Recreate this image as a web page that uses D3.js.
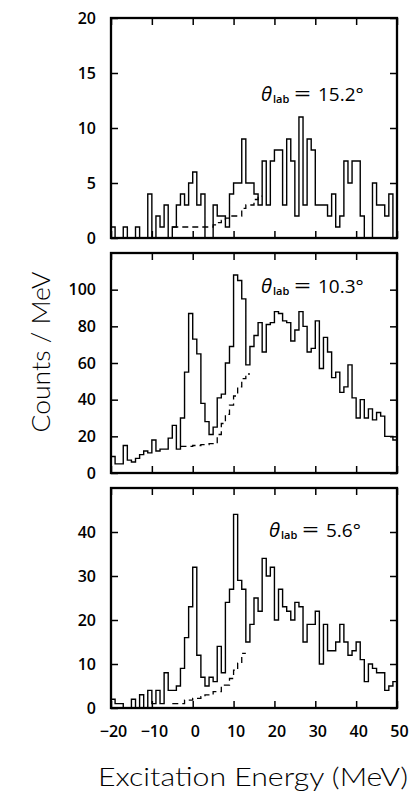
<!DOCTYPE html>
<html>
<head>
<meta charset="utf-8">
<script src="https://cdn.jsdelivr.net/npm/d3@7"></script>
<style>
body { margin: 0; background: #fff; }
svg text { font-family: "Open Sans", "Liberation Sans", Arial, sans-serif; fill: #000; }
.title { font-family: Lato, "Liberation Sans", sans-serif; font-weight: 300; }
</style>
</head>
<body>
<svg id="chart" width="413" height="793"></svg>
<script>
// histogram bins: 1 MeV wide starting at -20 MeV
var binStart = -20, binWidth = 1;

// counts / MeV, theta = 15.2
var counts15 = [1,0,0,1,0,0,1,0,0,4, 0,2,1,3,0,1,3,4,3,5, 6,3,4,0,0,3,2,2,1,4,
                5,5,9,5,5,4,3,7,3,7, 8,8,3,9,7,2,11,3,9,8, 3,3,3,2,4,1,2,7,5,7,
                7,2,0,0,5,3,3,2,4,0];
var bg15Start = -5;
var bg15 = [1,1,1,1,1,1,1,1,1,1, 1.2,1.4,1.6,1.8,2,2,2,2.7,3,3, 3.5,3.8];

// theta = 10.3
var counts10 = [9,5,5,15,7,6,8,10,12,11, 18,12,13,13,19,26,13,30,55,87,
                73,65,38,28,21,25,41,43,60,69, 108,105,95,59,69,75,82,66,81,82,
                88,87,83,82,72,78,88,80,66,68, 83,57,74,66,52,55,44,47,59,41,
                30,40,30,35,29,33,31,20,20,18];
var bg10Start = -3;
var bg10 = [14.5,14.5,14.5,15,15,15.5,15.5,16,16,21, 27,32,37,42,47,51.5,54];

// theta = 5.6
var counts5 = [2,1,1,0,0,2,0,3,0,4, 1,4,1,8,4,4,5,9,16,23,
               32,12,7,5,7,6,14,8,24,27, 44,29,27,15,19,25,22,34,30,32,
               20,27,23,22,20,24,23,15,19,19, 22,10,19,13,13,15,19,15,12,13,
               15,11,6,10,9,8,8,4,5,6];
var bg5Start = -5;
var bg5 = [1,1,1,1.8,1.8,2.2,2.2,2.6,3,3, 3.7,3.7,5.2,5.2,6.7,8.6,10.2,12.4];

var angles = ['15.2', '10.3', '5.6'];
var yMax = [20, 120, 50];
var yTicks = [[0,5,10,15,20], [0,20,40,60,80,100], [0,10,20,30,40]];
var xTicks = [-20,-10,0,10,20,30,40,50];

var panels = [
  {counts: counts15, bg: bg15, bgStart: bg15Start, angle: angles[0], ymax: yMax[0], ticks: yTicks[0]},
  {counts: counts10, bg: bg10, bgStart: bg10Start, angle: angles[1], ymax: yMax[1], ticks: yTicks[1]},
  {counts: counts5,  bg: bg5,  bgStart: bg5Start,  angle: angles[2], ymax: yMax[2], ticks: yTicks[2]}
];

// layout
var left = 111, right = 397, ph = 220;
var tops = [18, 253, 488];
var labelPos = [[261, 101], [261, 293], [269, 537]];

var svg = d3.select('#chart');

var x = d3.scaleLinear().domain([-20, 50]).range([left, right]);

function steps(vals, start) {
  var pts = vals.map(function(v, i) { return [start + i * binWidth, v]; });
  pts.push([start + vals.length * binWidth, vals[vals.length - 1]]);
  return pts;
}

panels.forEach(function(p, k) {
  var top = tops[k];
  var y = d3.scaleLinear().domain([0, p.ymax]).range([top + ph, top]);
  var g = svg.append('g');

  var line = d3.line()
    .x(function(d) { return x(d[0]); })
    .y(function(d) { return y(d[1]); })
    .curve(d3.curveStepAfter);

  // background estimate (dashed)
  g.append('path')
    .attr('d', line(steps(p.bg, p.bgStart)))
    .attr('fill', 'none')
    .attr('stroke', '#000')
    .attr('stroke-width', 1.3)
    .attr('stroke-dasharray', '6,4');

  // spectrum
  g.append('path')
    .attr('d', line(steps(p.counts, binStart)))
    .attr('fill', 'none')
    .attr('stroke', '#000')
    .attr('stroke-width', 1.4);

  // axes with inward ticks
  var yl = g.append('g').attr('transform', 'translate(' + left + ',0)')
    .call(d3.axisLeft(y).tickValues(p.ticks).tickSize(-7).tickPadding(15));
  var yr = g.append('g').attr('transform', 'translate(' + right + ',0)')
    .call(d3.axisRight(y).tickValues(p.ticks).tickSize(-7).tickFormat(''));
  var xt = g.append('g').attr('transform', 'translate(0,' + top + ')')
    .call(d3.axisTop(x).tickValues(xTicks).tickSize(-7).tickFormat(''));
  var xb = g.append('g').attr('transform', 'translate(0,' + (top + ph) + ')')
    .call(d3.axisBottom(x).tickValues(xTicks).tickSize(-7).tickPadding(18)
      .tickFormat(k === 2 ? d3.format('d') : ''));

  [yl, yr, xt, xb].forEach(function(a) {
    a.select('.domain').remove();
    a.selectAll('line').attr('stroke-width', 1.5);
    a.selectAll('text')
      .style('font-size', '16px')
      .style('font-weight', 600)
      .attr('fill', '#000');
  });
  xb.selectAll('text').attr('dx', 2);

  g.append('rect')
    .attr('x', left).attr('y', top)
    .attr('width', right - left).attr('height', ph)
    .attr('fill', 'none')
    .attr('stroke', '#000')
    .attr('stroke-width', 2.3);

  // angle label
  var lx = labelPos[k][0], ly = labelPos[k][1];
  var t = g.append('text').attr('x', lx).attr('y', ly)
    .style('font-size', '19px').style('font-weight', 500);
  t.append('tspan').text('θ').style('font-style', 'italic').style('font-size', '20px');
  t.append('tspan').attr('x', lx + 12).attr('dy', 2).text('lab')
    .style('font-size', '11px').style('font-weight', 600);
  t.append('tspan').attr('x', lx + 57).attr('dy', -2).text(p.angle + '°');
  g.append('text')
    .attr('x', lx + 33).attr('y', ly)
    .attr('textLength', 17)
    .attr('lengthAdjust', 'spacingAndGlyphs')
    .style('font-size', '22px').style('font-weight', 500)
    .text('=');
});

svg.append('text')
  .attr('class', 'title')
  .attr('transform', 'translate(50,352) rotate(-90)')
  .attr('text-anchor', 'middle')
  .attr('textLength', 161)
  .attr('lengthAdjust', 'spacingAndGlyphs')
  .style('font-size', '25px')
  .text('Counts / MeV');

svg.append('text')
  .attr('class', 'title')
  .attr('x', 253).attr('y', 786)
  .attr('text-anchor', 'middle')
  .attr('textLength', 310)
  .attr('lengthAdjust', 'spacingAndGlyphs')
  .style('font-size', '25px')
  .text('Excitation Energy (MeV)');
</script>
</body>
</html>
